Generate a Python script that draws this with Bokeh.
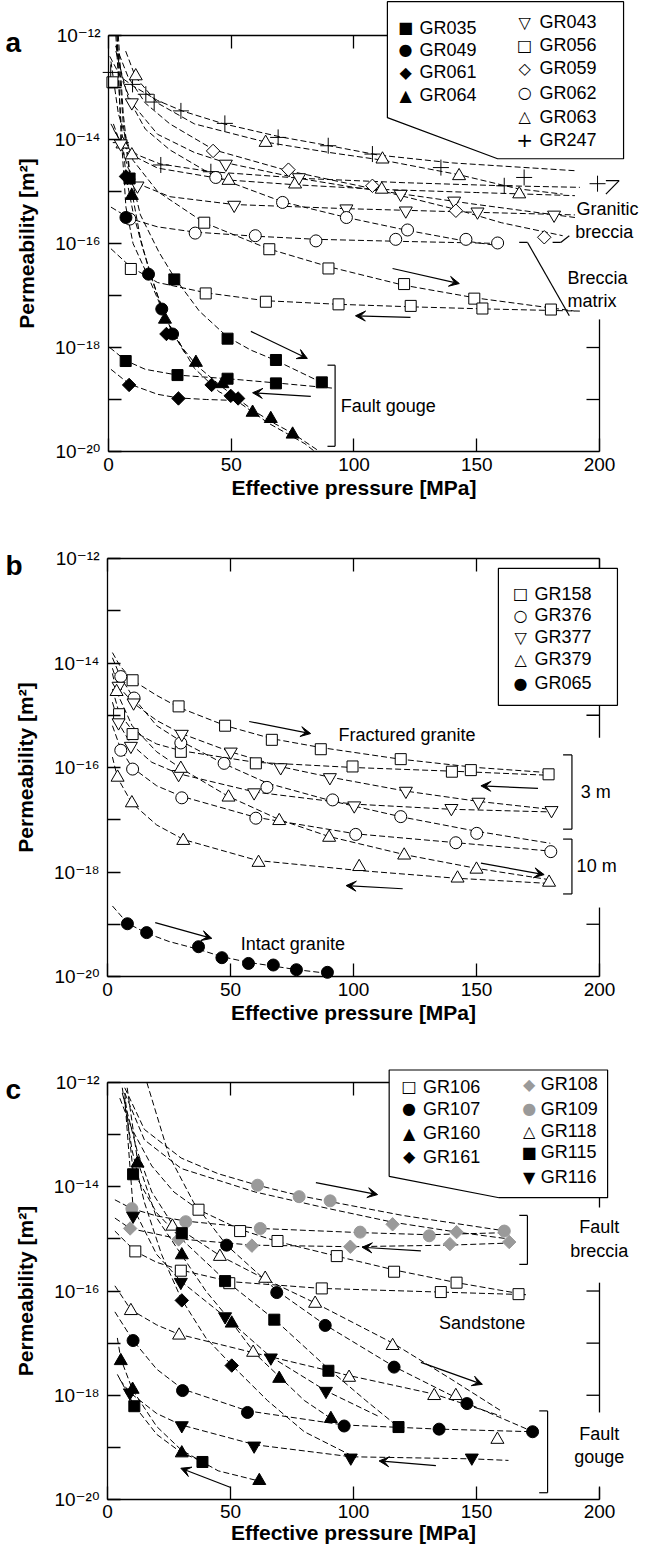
import numpy as np
from bokeh.plotting import figure
from bokeh.layouts import column
from bokeh.models import (LinearAxis, LogAxis, FixedTicker, Range1d, Label, Arrow,
                          VeeHead, PolyAnnotation, CustomJSTickFormatter)
from bokeh.embed import file_html
from bokeh.resources import INLINE

FONT = "Liberation Sans"
TICK_FONT = "Liberation Sans, DejaVu Sans"
SYM_FONT = "DejaVu Sans"
GRAY = "#9a9a9a"

# ---------------- DATA: effective pressure [MPa] and log10 permeability [m2] ----------------
# Panel a: granitic breccia / breccia matrix / fault gouge
a_GR035_p = [8.6, 26.8, 48.5, 68.2, 86.9, 7.0, 28.1, 48.5, 68.2]
a_GR035_k = [-14.75, -16.69, -17.83, -18.24, -18.67, -18.26, -18.53, -18.60, -18.69]
a_GR035_fit = [([4, 6, 8.6, 13, 20.6, 26.8, 37, 48.5, 58, 68.2, 88],
                [-12.0, -13.5, -14.6, -15.45, -16.17, -16.65, -17.3, -17.8, -18.05, -18.25, -18.7]),
               ([0.5, 7, 15, 28, 48.5, 68, 91],
                [-18.0, -18.25, -18.42, -18.53, -18.6, -18.68, -18.78])]
a_GR049_p = [7.1, 16.3, 21.7, 26.1]
a_GR049_k = [-15.5, -16.59, -17.26, -17.74]
a_GR049_fit = [([3.5, 5, 7.1, 10, 16.3, 21.7, 26, 31],
                [-12.0, -13.8, -15.3, -16.0, -16.65, -17.25, -17.7, -18.1])]
a_GR061_p = [7.1, 23.6, 42.0, 52.8, 8.4, 28.5, 49.8]
a_GR061_k = [-14.71, -17.74, -18.72, -18.98, -18.72, -18.98, -18.93]
a_GR061_fit = [([3, 5, 7.1, 10, 14, 20, 25, 35, 45, 53, 65, 80, 84],
                [-12.0, -13.6, -14.7, -15.4, -16.1, -17.0, -17.6, -18.4, -18.85, -19.05, -19.45, -19.85, -20.0]),
               ([1, 8.4, 20, 28.5, 40, 53],
                [-18.42, -18.7, -18.9, -18.97, -19.0, -19.02])]
a_GR064_p = [9.5, 23.0, 35.6, 46.4, 58.7, 66.1, 75.0]
a_GR064_k = [-15.08, -17.46, -18.29, -18.70, -19.25, -19.37, -19.67]
a_GR064_fit = [([3.5, 6, 9.5, 13, 17, 23, 30, 36, 46, 58.7, 66, 75, 86],
                [-12.0, -13.7, -15.0, -15.9, -16.6, -17.4, -18.0, -18.35, -18.75, -19.2, -19.42, -19.65, -20.0])]
a_GR043_p = [9.5, 47.8, 77.6, 119.0, 140.8, 181.5, 5.0, 11.8, 51.2, 96.9, 121.1, 150.3]
a_GR043_k = [-13.29, -14.47, -14.73, -15.05, -15.18, -15.45, -14.08, -14.89, -15.26, -15.33, -15.37, -15.39]
a_GR043_fit = [([3, 6, 9.5, 20, 35, 48, 78, 100, 120, 150, 190],
                [-12.2, -12.9, -13.3, -13.9, -14.25, -14.45, -14.75, -14.92, -15.05, -15.25, -15.5]),
               ([2, 5, 8, 12, 25, 51, 97, 150, 190],
                [-13.7, -14.1, -14.55, -14.85, -15.1, -15.25, -15.33, -15.4, -15.45])]
a_GR056_p = [1.6, 39.0, 65.5, 89.6, 120.4, 149.0, 180.2, 9.1, 39.6, 64.1, 93.7, 123.1, 152.3]
a_GR056_k = [-12.9, -15.6, -16.11, -16.48, -16.78, -17.06, -17.27, -16.49, -16.96, -17.12, -17.17, -17.2, -17.25]
a_GR056_fit = [([1, 4, 10, 20, 39, 65, 90, 120, 150, 190],
                [-12.5, -13.5, -14.4, -15.0, -15.6, -16.1, -16.45, -16.8, -17.05, -17.3]),
               ([1, 9, 20, 40, 64, 94, 125, 155, 192],
                [-16.1, -16.45, -16.75, -16.95, -17.1, -17.17, -17.22, -17.26, -17.3])]
a_GR059_p = [42.6, 73.3, 107.5, 141.5, 177.5]
a_GR059_k = [-14.22, -14.58, -14.89, -15.37, -15.88]
a_GR059_fit = [([3, 8, 15, 25, 43, 73, 108, 142, 160, 185],
                [-12.2, -12.8, -13.3, -13.7, -14.2, -14.6, -14.95, -15.35, -15.6, -15.85])]
a_GR062_p = [43.7, 70.9, 96.9, 121.8, 8.7, 35.3, 59.8, 84.5, 117.0, 145.6, 158.5]
a_GR062_k = [-14.73, -15.21, -15.5, -15.74, -15.53, -15.8, -15.85, -15.95, -15.92, -15.92, -15.99]
a_GR062_fit = [([3, 8, 15, 25, 43.7, 71, 97, 122, 145, 160],
                [-12.3, -13.2, -13.8, -14.2, -14.72, -15.2, -15.5, -15.75, -15.95, -16.05]),
               ([1, 8.7, 20, 35, 60, 85, 120, 160],
                [-15.3, -15.52, -15.68, -15.78, -15.86, -15.92, -15.96, -16.0])]
a_GR063_p = [11.1, 64.0, 111.6, 142.8, 167.3, 5.7, 9.5, 48.9, 76.0, 111.3]
a_GR063_k = [-12.78, -14.06, -14.38, -14.7, -15.05, -14.09, -14.3, -14.79, -14.86, -14.96]
a_GR063_fit = [([7, 11, 20, 35, 64, 90, 112, 143, 167, 185],
                [-12.3, -12.8, -13.3, -13.7, -14.05, -14.25, -14.4, -14.68, -14.95, -15.05]),
               ([2, 5.7, 9.5, 20, 49, 76, 111, 150, 190],
                [-13.8, -14.1, -14.3, -14.55, -14.78, -14.87, -14.96, -15.02, -15.08])]
a_GR247_p = [0.9, 9.8, 15.2, 18.6, 29.5, 47.4, 69.1, 89.5, 107.5, 135.4, 169.3, 199.2, 5.0, 21.3, 41.7, 161.2]
a_GR247_k = [-12.71, -12.94, -13.13, -13.28, -13.45, -13.69, -13.96, -14.12, -14.28, -14.54, -14.73, -14.85,
             -14.06, -14.49, -14.62, -14.89]
a_GR247_fit = [([0.5, 5, 10, 20, 30, 47, 70, 90, 110, 140, 190],
                [-12.4, -12.8, -12.97, -13.25, -13.45, -13.7, -13.95, -14.12, -14.3, -14.45, -14.6]),
               ([1, 5, 12, 21, 42, 80, 120, 161, 192],
                [-13.7, -14.06, -14.3, -14.47, -14.62, -14.75, -14.83, -14.89, -14.92])]

# Panel b: fractured granite / intact granite
b_GR158_p = [10.2, 28.9, 47.8, 66.8, 86.7, 119.2, 147.7, 179.3, 4.7, 10.2, 29.8, 60.3, 99.6, 140.0]
b_GR158_k = [-14.33, -14.83, -15.2, -15.47, -15.65, -15.84, -16.05, -16.13, -14.98, -15.36, -15.7, -15.92, -15.98, -16.08]
b_GR158_fit = [([2, 5, 10.2, 20, 29, 48, 67, 87, 119, 150, 180],
                [-13.8, -14.05, -14.33, -14.62, -14.85, -15.2, -15.45, -15.62, -15.84, -16.0, -16.1]),
               ([2, 4.7, 10.2, 20, 30, 60, 100, 140, 180],
                [-14.5, -14.95, -15.3, -15.55, -15.68, -15.9, -16.0, -16.07, -16.15])]
b_GR376_p = [5.4, 10.8, 29.8, 47.4, 64.8, 91.5, 119.2, 150.1, 180.2, 5.4, 10.2, 30.2, 60.3, 100.9, 141.6]
b_GR376_k = [-14.26, -14.67, -15.53, -15.92, -16.38, -16.62, -16.94, -17.26, -17.61, -15.67, -16.03, -16.58,
             -16.97, -17.28, -17.44]
b_GR376_fit = [([2, 5.4, 10.8, 20, 30, 47, 65, 92, 120, 150, 180],
                [-13.9, -14.28, -14.68, -15.2, -15.5, -15.92, -16.3, -16.65, -16.95, -17.22, -17.45]),
               ([2, 5.4, 10, 20, 30, 60, 101, 142, 180],
                [-15.2, -15.65, -16.0, -16.35, -16.55, -16.95, -17.27, -17.44, -17.6])]
b_GR377_p = [4.5, 10.6, 30.2, 50.1, 70.4, 90.4, 121.3, 150.8, 180.5, 4.5, 9.5, 28.9, 59.6, 100.3, 139.8]
b_GR377_k = [-14.44, -14.76, -15.36, -15.7, -16.0, -16.19, -16.45, -16.66, -16.82, -15.14, -15.59, -16.13,
             -16.48, -16.73, -16.78]
b_GR377_fit = [([2, 4.5, 10.6, 20, 30, 50, 70, 90, 121, 151, 180],
                [-14.1, -14.45, -14.77, -15.1, -15.35, -15.7, -15.98, -16.18, -16.45, -16.65, -16.8]),
               ([2, 4.5, 9.5, 18, 29, 60, 100, 140, 180],
                [-14.75, -15.15, -15.55, -15.9, -16.12, -16.47, -16.7, -16.8, -16.85])]
b_GR379_p = [3.7, 29.8, 49.2, 69.8, 90.1, 120.6, 150.0, 179.5, 4.1, 9.9, 30.8, 61.4, 102.3, 142.3]
b_GR379_k = [-14.55, -16.02, -16.57, -17.02, -17.34, -17.68, -17.95, -18.2, -16.19, -16.68, -17.4, -17.82,
             -17.9, -18.12]
b_GR379_fit = [([2, 3.7, 10, 20, 30, 49, 70, 90, 121, 150, 180],
                [-14.2, -14.55, -15.2, -15.7, -16.02, -16.55, -17.0, -17.32, -17.67, -17.93, -18.15]),
               ([2, 4.1, 9.9, 20, 31, 61, 102, 142, 180],
                [-15.8, -16.2, -16.68, -17.1, -17.38, -17.78, -17.97, -18.12, -18.22])]
b_GR065_p = [8.1, 15.9, 37.0, 46.5, 57.3, 67.4, 76.8, 89.4]
b_GR065_k = [-18.99, -19.16, -19.43, -19.64, -19.75, -19.78, -19.87, -19.92]
b_GR065_fit = [([2, 8.1, 15.9, 25, 37, 46.5, 57.3, 67.4, 77, 91.5],
                [-18.65, -18.98, -19.17, -19.33, -19.48, -19.62, -19.73, -19.8, -19.87, -19.95])]

# Panel c: sandstone / fault breccia / fault gouge
c_GR106_p = [37.0, 53.9, 69.1, 93.2, 116.5, 141.9, 167.1, 11.3, 29.8, 49.5, 87.1, 135.5]
c_GR106_k = [-14.44, -14.85, -15.04, -15.33, -15.63, -15.84, -16.06, -15.24, -15.61, -15.85, -15.95, -16.02]
c_GR106_fit = [([5, 10, 18, 27, 37, 54, 69, 93, 117, 142, 170],
                [-12.3, -12.9, -13.6, -14.1, -14.44, -14.82, -15.05, -15.33, -15.6, -15.84, -16.07]),
               ([3, 11.3, 20, 30, 50, 87, 135, 170],
                [-14.85, -15.24, -15.45, -15.6, -15.82, -15.95, -16.02, -16.07])]
c_GR107_p = [48.4, 68.8, 88.5, 116.5, 146.1, 172.8, 10.4, 30.5, 56.9, 96.2, 134.8]
c_GR107_k = [-15.12, -16.03, -16.66, -17.46, -18.16, -18.7, -16.95, -17.91, -18.33, -18.59, -18.65]
c_GR107_fit = [([16, 25, 35, 48.4, 69, 88.5, 116.5, 146, 173],
                [-12.0, -13.4, -14.3, -15.12, -16.0, -16.65, -17.45, -18.15, -18.7]),
               ([3, 10.4, 20, 30.5, 57, 96, 135, 173],
                [-16.4, -16.95, -17.5, -17.88, -18.3, -18.57, -18.65, -18.7])]
c_GR160_p = [12.2, 30.2, 50.5, 69.8, 90.8, 5.4, 10.2, 30.2, 61.7]
c_GR160_k = [-13.55, -15.31, -16.62, -17.68, -18.45, -17.34, -17.89, -19.11, -19.64]
c_GR160_fit = [([8, 12.2, 20, 30, 40, 50.5, 60, 70, 80, 91],
                [-12.1, -13.5, -14.6, -15.3, -16.0, -16.6, -17.2, -17.65, -18.1, -18.45]),
               ([4, 5.4, 10.2, 20, 30, 45, 62],
                [-16.9, -17.3, -17.9, -18.6, -19.05, -19.45, -19.65])]
c_GR161_p = [30.2, 50.5]
c_GR161_k = [-16.18, -17.43]
c_GR161_fit = [([6, 10, 15, 22, 30, 40, 50.5, 65, 80, 101],
                [-12.1, -13.3, -14.3, -15.3, -16.15, -16.9, -17.42, -18.1, -18.7, -19.2])]
c_GR108_p = [115.9, 141.9, 163.3, 9.2, 28.9, 58.7, 98.7, 139.2]
c_GR108_k = [-14.72, -14.87, -15.06, -14.8, -15.01, -15.13, -15.15, -15.1]
c_GR108_fit = [([7, 15, 30, 60, 90, 116, 142, 163],
                [-12.2, -13.1, -13.65, -14.1, -14.42, -14.68, -14.87, -15.0]),
               ([3, 9.2, 29, 59, 99, 139, 163],
                [-14.6, -14.8, -15.0, -15.12, -15.15, -15.12, -15.08])]
c_GR109_p = [61.0, 77.9, 90.5, 161.3, 9.9, 31.8, 62.1, 102.7, 130.8]
c_GR109_k = [-13.97, -14.19, -14.27, -14.85, -14.42, -14.67, -14.8, -14.87, -14.94]
c_GR109_fit = [([7, 15, 30, 45, 61, 78, 90, 120, 162],
                [-12.1, -12.9, -13.45, -13.75, -13.97, -14.17, -14.28, -14.55, -14.85]),
               ([3, 9.9, 20, 32, 62, 103, 131, 162],
                [-14.25, -14.42, -14.56, -14.66, -14.8, -14.88, -14.92, -14.88])]
c_GR118_p = [26.4, 45.7, 64.1, 84.4, 115.9, 132.8, 141.6, 158.5, 9.5, 29.1, 59.2, 98.2]
c_GR118_k = [-14.76, -15.34, -15.76, -16.24, -17.05, -18.01, -18.01, -18.85, -16.38, -16.85, -17.18, -17.66]
c_GR118_fit = [([6, 12, 18, 26.4, 46, 64, 84, 116, 140, 160],
                [-12.2, -13.3, -14.1, -14.72, -15.33, -15.77, -16.22, -17.0, -17.7, -18.3]),
               ([3, 9.5, 20, 29, 59, 98, 133, 160],
                [-15.9, -16.36, -16.65, -16.83, -17.18, -17.62, -17.98, -18.4])]
c_GR115_p = [10.4, 30.2, 47.8, 67.8, 89.8, 118.3, 10.9, 38.6]
c_GR115_k = [-13.76, -14.89, -15.81, -16.55, -17.53, -18.61, -18.21, -19.28]
c_GR115_fit = [([7, 10.4, 20, 30, 48, 68, 90, 105, 118],
                [-12.2, -13.7, -14.5, -15.0, -15.8, -16.55, -17.5, -18.1, -18.6]),
               ([4, 10.9, 20, 30, 39],
                [-17.6, -18.2, -18.75, -19.1, -19.28])]
c_GR116_p = [10.4, 29.8, 47.8, 66.4, 88.8, 9.1, 30.2, 59.6, 98.9, 148.1]
c_GR116_k = [-14.56, -15.83, -16.49, -17.28, -17.92, -17.95, -18.58, -18.97, -19.2, -19.2]
c_GR116_fit = [([7, 10.4, 20, 30, 48, 66, 89, 110],
                [-12.3, -14.4, -15.3, -15.82, -16.5, -17.25, -17.92, -18.4]),
               ([5, 9.1, 20, 30, 60, 99, 148, 163],
                [-17.7, -17.95, -18.35, -18.57, -18.95, -19.18, -19.22, -19.25])]

X_TICKS = [0, 50, 100, 150, 200]
Y_MAJOR = [1e-20, 1e-18, 1e-16, 1e-14, 1e-12]
Y_MINOR = [1e-19, 1e-17, 1e-15, 1e-13]

# ---------------- styles ----------------
STYLE = {
    "GR035": ("square", "black", "black", 11, 0),
    "GR049": ("circle", "black", "black", 12, 0),
    "GR061": ("square", "black", "black", 9.5, np.pi / 4),
    "GR064": ("triangle", "black", "black", 13, 0),
    "GR043": ("inverted_triangle", "white", "black", 13, 0),
    "GR056": ("square", "white", "black", 11, 0),
    "GR059": ("square", "white", "black", 9.5, np.pi / 4),
    "GR062": ("circle", "white", "black", 12, 0),
    "GR063": ("triangle", "white", "black", 13, 0),
    "GR247": ("cross", "black", "black", 16, 0),
    "GR158": ("square", "white", "black", 11, 0),
    "GR376": ("circle", "white", "black", 12, 0),
    "GR377": ("inverted_triangle", "white", "black", 13, 0),
    "GR379": ("triangle", "white", "black", 13, 0),
    "GR065": ("circle", "black", "black", 12, 0),
    "GR106": ("square", "white", "black", 11, 0),
    "GR107": ("circle", "black", "black", 12, 0),
    "GR160": ("triangle", "black", "black", 13, 0),
    "GR161": ("square", "black", "black", 9.5, np.pi / 4),
    "GR108": ("square", GRAY, GRAY, 9.5, np.pi / 4),
    "GR109": ("circle", GRAY, GRAY, 12, 0),
    "GR118": ("triangle", "white", "black", 13, 0),
    "GR115": ("square", "black", "black", 11, 0),
    "GR116": ("inverted_triangle", "black", "black", 13, 0),
}

SUP_JS = """
const e = Math.round(Math.log10(tick));
const m = {"-":"⁻","0":"⁰","1":"¹","2":"²","3":"³","4":"⁴","5":"⁵","6":"⁶","7":"⁷","8":"⁸","9":"⁹"};
let s = "";
for (const c of String(e)) { s += m[c]; }
return "10" + s;
"""

TICK_FS = "19px"
AXLAB_FS = "21px"
TEXT_FS = "18px"


def style_axis(ax):
    ax.major_tick_in = 13
    ax.major_tick_out = 0
    ax.minor_tick_in = 13
    ax.minor_tick_out = 0
    ax.axis_line_width = 1.3
    ax.major_tick_line_width = 1.3
    ax.minor_tick_line_width = 1.3
    ax.axis_line_color = "black"
    ax.major_tick_line_color = "black"
    ax.minor_tick_line_color = "black"
    ax.major_label_text_font = TICK_FONT
    ax.major_label_text_font_size = TICK_FS
    ax.major_label_text_color = "black"
    ax.axis_label_text_font = FONT
    ax.axis_label_text_font_size = AXLAB_FS
    ax.axis_label_text_font_style = "bold"
    ax.axis_label_text_color = "black"


def make_fig(height, x_lo, x_hi, l_lo, l_hi, lab_standoff=6, axlab_standoff=2):
    # the frame covers the whole canvas; the axes are pinned at the data box edges
    p = figure(width=640, height=height, x_range=Range1d(x_lo, x_hi),
               y_range=Range1d(10.0 ** l_lo, 10.0 ** l_hi), y_axis_type="log",
               x_axis_location=None, y_axis_location=None,
               output_backend="svg", toolbar_location=None,
               min_border_left=0, min_border_right=0, min_border_top=0, min_border_bottom=0)
    p.outline_line_color = None
    p.grid.visible = False
    p.background_fill_color = "white"
    p.border_fill_color = "white"

    bx = LinearAxis(fixed_location=1e-20, bounds=(0, 200), ticker=FixedTicker(ticks=X_TICKS))
    style_axis(bx)
    bx.minor_tick_line_color = None
    bx.axis_label = "Effective pressure [MPa]"
    bx.major_label_standoff = lab_standoff
    bx.axis_label_standoff = axlab_standoff
    p.add_layout(bx, "below")

    ly = LogAxis(fixed_location=0, bounds=(1e-20, 1e-12),
                 ticker=FixedTicker(ticks=Y_MAJOR, minor_ticks=Y_MINOR),
                 formatter=CustomJSTickFormatter(code=SUP_JS))
    style_axis(ly)
    ly.axis_label = "Permeability [m²]"
    ly.major_label_standoff = 8
    ly.axis_label_standoff = 14
    p.add_layout(ly, "left")

    tx = LinearAxis(fixed_location=1e-12, bounds=(0, 200), ticker=FixedTicker(ticks=X_TICKS))
    style_axis(tx)
    tx.minor_tick_line_color = None
    tx.major_label_text_color = None
    p.add_layout(tx, "above")
    return p


def draw(p, series):
    for name, px, lk, fits in series:
        for fp, fk in fits:
            p.line(fp, [10.0 ** v for v in fk], line_color="black", line_width=1, line_dash="6 3")
    for name, px, lk, fits in series:
        mk, fill, line, size, ang = STYLE[name]
        p.scatter(px, [10.0 ** v for v in lk], marker=mk, size=size, angle=ang,
                  fill_color=fill, line_color=line, line_width=1)


def seg(p, x0, l0, x1, l1, w=1.2):
    p.add_layout(Arrow(start=None, end=None, x_start=x0, y_start=10.0 ** l0, x_end=x1,
                       y_end=10.0 ** l1, line_width=w, line_color="black"))


def arrow(p, x0, l0, x1, l1):
    p.add_layout(Arrow(end=VeeHead(size=10, fill_color="black", line_color="black", line_width=1),
                       x_start=x0, y_start=10.0 ** l0, x_end=x1, y_end=10.0 ** l1,
                       line_width=1.2, line_color="black"))


def text(p, x, l, s, align="left", size=TEXT_FS, font=FONT, color="black", style="normal",
         baseline="middle"):
    p.add_layout(Label(x=x, y=10.0 ** l, text=s, text_align=align, text_baseline=baseline,
                       text_font=font, text_font_size=size, text_color=color,
                       text_font_style=style))


def bracket(p, x_in, x_out, l_top, l_bot):
    seg(p, x_in, l_top, x_out, l_top)
    seg(p, x_out, l_top, x_out, l_bot)
    seg(p, x_out, l_bot, x_in, l_bot)


def right_spine(p, pieces, ticks, dx):
    for l0, l1 in pieces:
        seg(p, 200, l0, 200, l1, w=1.3)
    for t in ticks:
        seg(p, 200, t, 200 - dx, t, w=1.3)


def legend_box(p, xs, ls):
    p.add_layout(PolyAnnotation(xs=xs, ys=[10.0 ** v for v in ls], fill_color="white", fill_alpha=1.0,
                                line_color="black", line_alpha=1.0, line_width=1.2))


def legend_entries(p, xm, xt, rows, entries):
    for l, (sym, color, lab) in zip(rows, entries):
        size = "20px" if sym == "+" else "16px"
        text(p, xm, l, sym, align="center", size=size, font=SYM_FONT, color=color)
        text(p, xt, l, lab)


# ---------------- panel a ----------------
pa = make_fig(517, -43.99, 216.70, -21.269, -11.327)
draw(pa, [("GR247", a_GR247_p, a_GR247_k, a_GR247_fit),
          ("GR063", a_GR063_p, a_GR063_k, a_GR063_fit),
          ("GR043", a_GR043_p, a_GR043_k, a_GR043_fit),
          ("GR059", a_GR059_p, a_GR059_k, a_GR059_fit),
          ("GR062", a_GR062_p, a_GR062_k, a_GR062_fit),
          ("GR056", a_GR056_p, a_GR056_k, a_GR056_fit),
          ("GR035", a_GR035_p, a_GR035_k, a_GR035_fit),
          ("GR049", a_GR049_p, a_GR049_k, a_GR049_fit),
          ("GR061", a_GR061_p, a_GR061_k, a_GR061_fit),
          ("GR064", a_GR064_p, a_GR064_k, a_GR064_fit)])
arrow(pa, 115.7, -16.48, 142.9, -16.77)
arrow(pa, 123.0, -17.42, 100.6, -17.39)
arrow(pa, 58.0, -17.69, 81.0, -18.21)
arrow(pa, 82.4, -18.94, 58.7, -18.87)
bracket(pa, 89.2, 92.3, -18.34, -19.9)
text(pa, 94.6, -19.12, "Fault gouge")
text(pa, 190.6, -15.34, "Granitic")
text(pa, 190.1, -15.78, "breccia")
seg(pa, 202.6, -14.79, 208.0, -14.79)
seg(pa, 208.0, -14.79, 202.6, -15.05)
seg(pa, 180.9, -15.98, 184.2, -15.98)
seg(pa, 184.2, -15.98, 187.7, -15.85)
text(pa, 187.0, -16.67, "Breccia")
text(pa, 187.0, -17.10, "matrix")
seg(pa, 167.3, -15.98, 170.7, -15.98)
seg(pa, 170.7, -15.98, 187.7, -17.39)
right_spine(pa, [(-17.46, -20.0)], [-18, -19], 5.3)
legend_box(pa, [113.6, 209.8, 209.8, 158.5, 113.6], [-11.35, -11.35, -14.37, -14.37, -13.58])
legend_entries(pa, 121.0, 126.7, [-11.85, -12.27, -12.71, -13.15],
               [("■", "black", "GR035"), ("●", "black", "GR049"), ("◆", "black", "GR061"),
                ("▲", "black", "GR064")])
legend_entries(pa, 169.5, 175.6, [-11.75, -12.19, -12.63, -13.10, -13.56, -14.0],
               [("▽", "black", "GR043"), ("□", "black", "GR056"), ("◇", "black", "GR059"),
                ("○", "black", "GR062"), ("△", "black", "GR063"), ("+", "black", "GR247")])
text(pa, -42, -12.13, "a", size="28px", style="bold", baseline="alphabetic")

# ---------------- panel b ----------------
pb = make_fig(525, -43.50, 216.67, -21.263, -11.215)
draw(pb, [("GR158", b_GR158_p, b_GR158_k, b_GR158_fit),
          ("GR376", b_GR376_p, b_GR376_k, b_GR376_fit),
          ("GR377", b_GR377_p, b_GR377_k, b_GR377_fit),
          ("GR379", b_GR379_p, b_GR379_k, b_GR379_fit),
          ("GR065", b_GR065_p, b_GR065_k, b_GR065_fit)])
arrow(pb, 57.6, -15.12, 82.6, -15.35)
arrow(pb, 175.0, -16.40, 151.8, -16.35)
arrow(pb, 151.8, -17.83, 177.5, -18.05)
arrow(pb, 120.0, -18.32, 97.0, -18.26)
arrow(pb, 19.4, -18.97, 42.4, -19.27)
text(pb, 93.9, -15.38, "Fractured granite")
text(pb, 54.2, -19.38, "Intact granite")
bracket(pb, 185.2, 188.8, -15.76, -17.18)
bracket(pb, 185.2, 188.8, -17.37, -18.42)
text(pb, 192.4, -16.46, "3 m")
text(pb, 190.7, -17.89, "10 m")
right_spine(pb, [(-12.0, -12.3), (-14.81, -15.43), (-18.68, -20.0)], [-15, -19], 5.3)
legend_box(pb, [158.9, 207.3, 207.3, 158.9], [-12.19, -12.19, -14.81, -14.81])
legend_entries(pb, 167.9, 173.6, [-12.67, -13.09, -13.51, -13.93, -14.39],
               [("□", "black", "GR158"), ("○", "black", "GR376"), ("▽", "black", "GR377"),
                ("△", "black", "GR379"), ("●", "black", "GR065")])
text(pb, -41.5, -12.13, "b", size="28px", style="bold", baseline="alphabetic")

# ---------------- panel c ----------------
pc = make_fig(506, -43.50, 216.67, -20.94, -11.232, lab_standoff=5, axlab_standoff=0)
draw(pc, [("GR109", c_GR109_p, c_GR109_k, c_GR109_fit),
          ("GR108", c_GR108_p, c_GR108_k, c_GR108_fit),
          ("GR106", c_GR106_p, c_GR106_k, c_GR106_fit),
          ("GR107", c_GR107_p, c_GR107_k, c_GR107_fit),
          ("GR118", c_GR118_p, c_GR118_k, c_GR118_fit),
          ("GR160", c_GR160_p, c_GR160_k, c_GR160_fit),
          ("GR161", c_GR161_p, c_GR161_k, c_GR161_fit),
          ("GR115", c_GR115_p, c_GR115_k, c_GR115_fit),
          ("GR116", c_GR116_p, c_GR116_k, c_GR116_fit)])
arrow(pc, 84.7, -13.92, 109.8, -14.15)
arrow(pc, 127.4, -15.23, 103.5, -15.16)
arrow(pc, 127.4, -17.37, 152.4, -17.79)
arrow(pc, 133.5, -19.35, 110.4, -19.26)
arrow(pc, 50.1, -19.77, 29.8, -19.40)
bracket(pc, 167.4, 170.7, -14.55, -15.49)
bracket(pc, 175.5, 178.9, -18.30, -19.87)
text(pc, 199.9, -14.78, "Fault", align="center")
text(pc, 199.9, -15.23, "breccia", align="center")
text(pc, 134.8, -16.61, "Sandstone")
text(pc, 199.9, -18.75, "Fault", align="center")
text(pc, 199.9, -19.18, "gouge", align="center")
right_spine(pc, [(-14.21, -14.40), (-15.84, -18.33), (-19.77, -20.0)], [-16, -17, -18], 5.3)
legend_box(pc, [114.5, 203.3, 203.3, 159.2, 114.5], [-11.76, -11.76, -14.21, -14.21, -13.80])
legend_entries(pc, 122.6, 128.3, [-12.08, -12.50, -12.97, -13.42],
               [("□", "black", "GR106"), ("●", "black", "GR107"), ("▲", "black", "GR160"),
                ("◆", "black", "GR161")])
legend_entries(pc, 171.4, 176.1, [-12.03, -12.50, -12.93, -13.34, -13.82],
               [("◆", GRAY, "GR108"), ("●", GRAY, "GR109"), ("△", "black", "GR118"),
                ("■", "black", "GR115"), ("▼", "black", "GR116")])
text(pc, -41.5, -12.13, "c", size="28px", style="bold", baseline="alphabetic")

layout = column(pa, pb, pc, spacing=0)
open("out.html", "w").write(file_html(layout, INLINE))
